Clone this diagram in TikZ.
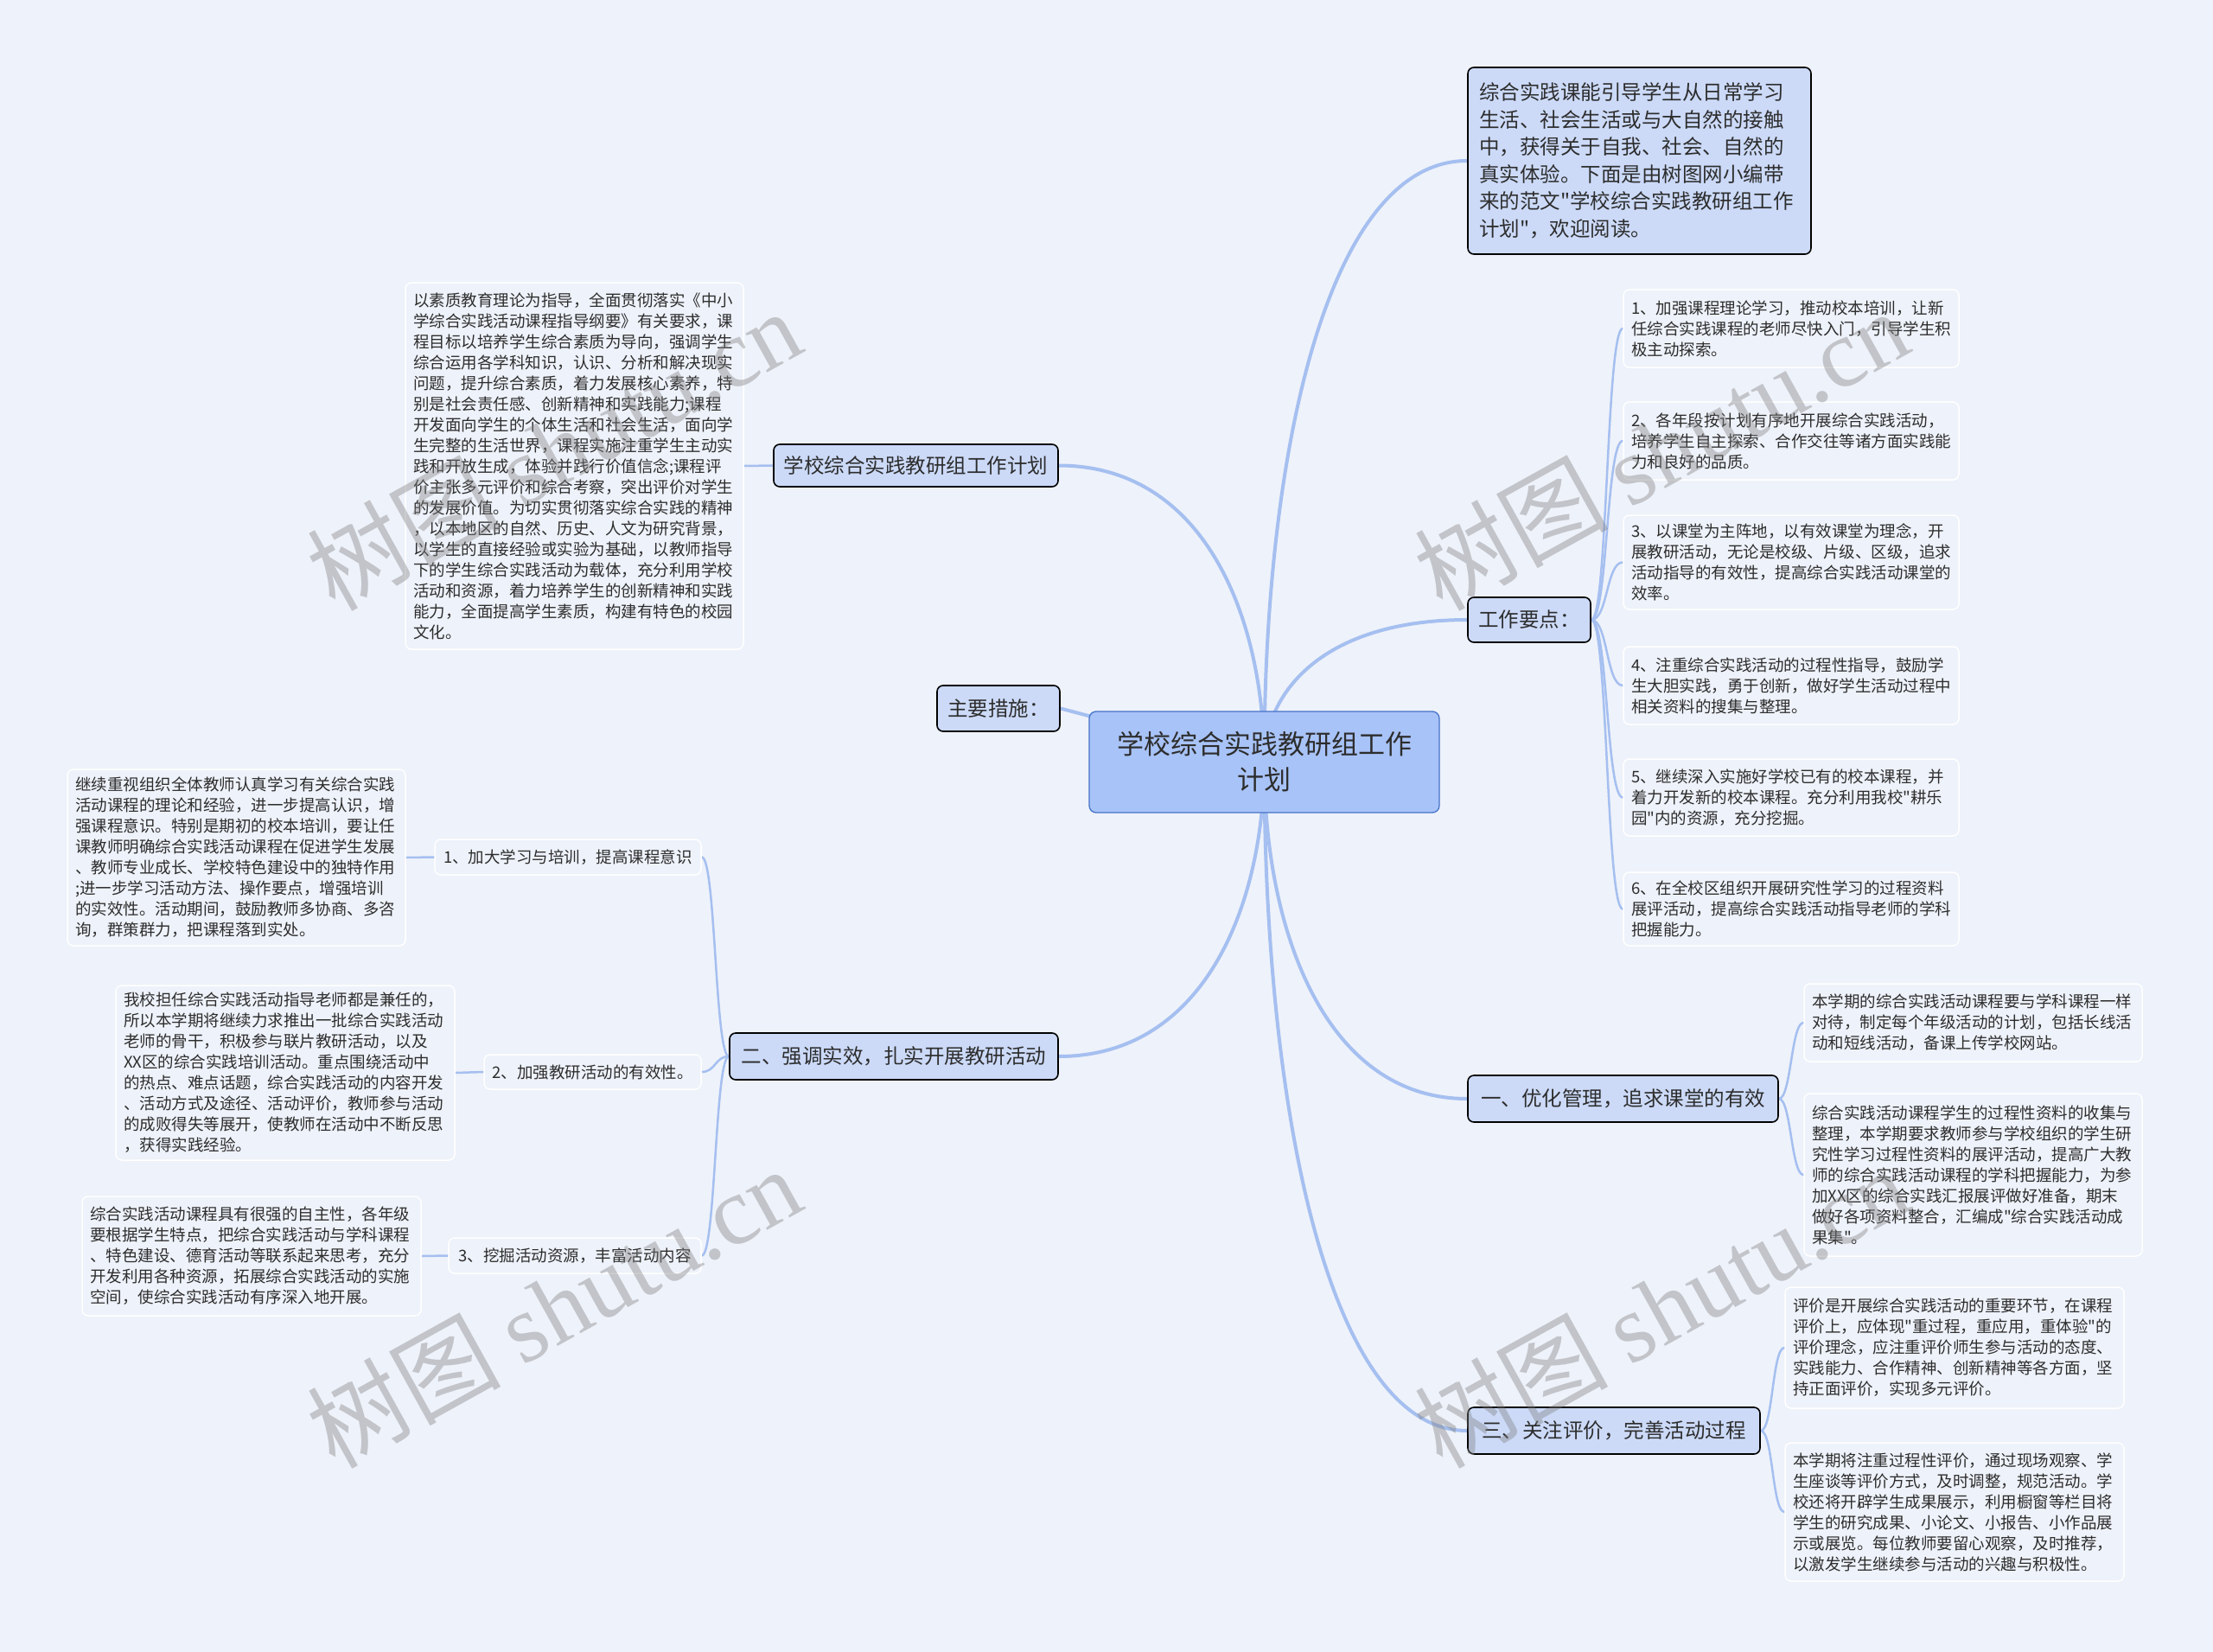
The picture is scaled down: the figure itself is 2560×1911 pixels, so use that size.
\documentclass[tikz,border=0pt]{standalone}
\usepackage{fontspec}
\newfontfamily\cjk{Noto Sans CJK SC}
\newfontfamily\wmlatin{Liberation Serif}
\definecolor{bgc}{RGB}{238,242,250}
\definecolor{linec}{RGB}{165,191,240}
\definecolor{lonefill}{RGB}{204,218,248}
\definecolor{ctrfill}{RGB}{168,195,247}
\definecolor{ctrdraw}{RGB}{70,115,200}
\definecolor{txt}{RGB}{45,45,45}
\pgfdeclarelayer{bglayer}
\pgfdeclarelayer{toplayer}
\pgfsetlayers{bglayer,main,toplayer}
\begin{document}
\begin{tikzpicture}[x=1pt,y=-1pt,
  ctrbox/.style={draw=ctrdraw, line width=1.3pt, fill=ctrfill, rounded corners=8pt, text=txt,
    font=\cjk\fontsize{31}{41}\selectfont, inner sep=0pt, align=center},
  lone/.style={draw=black, line width=1.6pt, fill=lonefill, rounded corners=7pt, text=txt,
    font=\cjk\fontsize{23.5}{31.5}\selectfont, inner sep=0pt},
  ltwo/.style={draw=white, line width=1.5pt, fill=bgc, rounded corners=7pt, text=txt,
    font=\cjk\fontsize{18.5}{24}\selectfont, inner xsep=9pt, inner ysep=0pt, align=left},
  subnode/.style={draw=white, line width=1.5pt, fill=bgc, rounded corners=7pt, text=txt,
    font=\cjk\fontsize{18.5}{24}\selectfont, inner sep=0pt},
  mainbr/.style={draw=linec, line width=4pt, line cap=round},
  subbr/.style={draw=linec, line width=2.5pt, line cap=round},
  wm/.style={rotate=29, text=black!50, opacity=0.4, font=\cjk\fontsize{112}{112}\selectfont}
]
\useasboundingbox (0,0) rectangle (2560,1911);

% ---------- nodes ----------
\node[ctrbox, minimum width=405pt, minimum height=117pt] (ctr) at (1462.5,881.5)
  {学校综合实践教研组工作\\计划};

\node[lone, minimum height=216pt, text width=371pt, inner xsep=13pt, align=left] (desc) at (1896.5,186)
  {综合实践课能引导学生从日常学习\\生活、社会生活或与大自然的接触\\中，获得关于自我、社会、自然的\\真实体验。下面是由树图网小编带\\来的范文"学校综合实践教研组工作\\计划"，欢迎阅读。};

\node[lone, minimum width=142pt, minimum height=52pt] (gzyd) at (1769,717) {工作要点：};
\node[lone, minimum width=142pt, minimum height=53pt] (zycs) at (1155,819.5) {主要措施：};
\node[lone, minimum width=329pt, minimum height=49pt] (jh) at (1059.5,538.5) {学校综合实践教研组工作计划};
\node[lone, minimum width=380pt, minimum height=54pt] (er) at (1034,1222) {二、强调实效，扎实开展教研活动};
\node[lone, minimum width=359pt, minimum height=54pt] (yi) at (1877.5,1271) {一、优化管理，追求课堂的有效};
\node[lone, minimum width=338pt, minimum height=54pt] (san) at (1867,1655) {三、关注评价，完善活动过程};

% right items under 工作要点
\node[ltwo, text width=370pt, minimum height=90pt] (it1) at (2072,380)
  {1、加强课程理论学习，推动校本培训，让新\\任综合实践课程的老师尽快入门，引导学生积\\极主动探索。};
\node[ltwo, text width=370pt, minimum height=90pt] (it2) at (2072,510)
  {2、各年段按计划有序地开展综合实践活动，\\培养学生自主探索、合作交往等诸方面实践能\\力和良好的品质。};
\node[ltwo, text width=370pt, minimum height=109pt] (it3) at (2072,650.5)
  {3、以课堂为主阵地，以有效课堂为理念，开\\展教研活动，无论是校级、片级、区级，追求\\活动指导的有效性，提高综合实践活动课堂的\\效率。};
\node[ltwo, text width=370pt, minimum height=90pt] (it4) at (2072,793)
  {4、注重综合实践活动的过程性指导，鼓励学\\生大胆实践，勇于创新，做好学生活动过程中\\相关资料的搜集与整理。};
\node[ltwo, text width=370pt, minimum height=89pt] (it5) at (2072,922.5)
  {5、继续深入实施好学校已有的校本课程，并\\着力开发新的校本课程。充分利用我校"耕乐\\园"内的资源，充分挖掘。};
\node[ltwo, text width=370pt, minimum height=85pt] (it6) at (2072,1051.5)
  {6、在全校区组织开展研究性学习的过程资料\\展评活动，提高综合实践活动指导老师的学科\\把握能力。};

% under 一
\node[ltwo, text width=373pt, minimum height=90pt] (ya) at (2282.5,1183)
  {本学期的综合实践活动课程要与学科课程一样\\对待，制定每个年级活动的计划，包括长线活\\动和短线活动，备课上传学校网站。};
\node[ltwo, text width=373pt, minimum height=188pt] (yb) at (2282.5,1359)
  {综合实践活动课程学生的过程性资料的收集与\\整理，本学期要求教师参与学校组织的学生研\\究性学习过程性资料的展评活动，提高广大教\\师的综合实践活动课程的学科把握能力，为参\\加XX区的综合实践汇报展评做好准备，期末\\做好各项资料整合，汇编成"综合实践活动成\\果集"。};

% under 三
\node[ltwo, text width=374pt, minimum height=140pt] (sc) at (2261,1559)
  {评价是开展综合实践活动的重要环节，在课程\\评价上，应体现"重过程，重应用，重体验"的\\评价理念，应注重评价师生参与活动的态度、\\实践能力、合作精神、创新精神等各方面，坚\\持正面评价，实现多元评价。};
\node[ltwo, text width=374pt, minimum height=160pt] (sd) at (2261,1749)
  {本学期将注重过程性评价，通过现场观察、学\\生座谈等评价方式，及时调整，规范活动。学\\校还将开辟学生成果展示，利用橱窗等栏目将\\学生的研究成果、小论文、小报告、小作品展\\示或展览。每位教师要留心观察，及时推荐，\\以激发学生继续参与活动的兴趣与积极性。};

% left top text
\node[ltwo, text width=373pt, minimum height=424pt] (lt) at (664.5,539)
  {以素质教育理论为指导，全面贯彻落实《中小\\学综合实践活动课程指导纲要》有关要求，课\\程目标以培养学生综合素质为导向，强调学生\\综合运用各学科知识，认识、分析和解决现实\\问题，提升综合素质，着力发展核心素养，特\\别是社会责任感、创新精神和实践能力;课程\\开发面向学生的个体生活和社会生活，面向学\\生完整的生活世界，课程实施注重学生主动实\\践和开放生成，体验并践行价值信念;课程评\\价主张多元评价和综合考察，突出评价对学生\\的发展价值。为切实贯彻落实综合实践的精神\\，以本地区的自然、历史、人文为研究背景，\\以学生的直接经验或实验为基础，以教师指导\\下的学生综合实践活动为载体，充分利用学校\\活动和资源，着力培养学生的创新精神和实践\\能力，全面提高学生素质，构建有特色的校园\\文化。};

% under 二
\node[subnode, minimum width=308pt, minimum height=41pt] (s1) at (657,991.5) {1、加大学习与培训，提高课程意识};
\node[subnode, minimum width=251pt, minimum height=40pt] (s2) at (685.5,1240) {2、加强教研活动的有效性。};
\node[subnode, minimum width=292pt, minimum height=41pt] (s3) at (665,1452.5) {3、挖掘活动资源，丰富活动内容};

\node[ltwo, text width=373pt, minimum height=204pt] (b1) at (273.5,992)
  {继续重视组织全体教师认真学习有关综合实践\\活动课程的理论和经验，进一步提高认识，增\\强课程意识。特别是期初的校本培训，要让任\\课教师明确综合实践活动课程在促进学生发展\\、教师专业成长、学校特色建设中的独特作用\\;进一步学习活动方法、操作要点，增强培训\\的实效性。活动期间，鼓励教师多协商、多咨\\询，群策群力，把课程落到实处。};
\node[ltwo, text width=374pt, minimum height=202pt] (b2) at (330,1241)
  {我校担任综合实践活动指导老师都是兼任的，\\所以本学期将继续力求推出一批综合实践活动\\老师的骨干，积极参与联片教研活动，以及\\XX区的综合实践培训活动。重点围绕活动中\\的热点、难点话题，综合实践活动的内容开发\\、活动方式及途径、活动评价，教师参与活动\\的成败得失等展开，使教师在活动中不断反思\\，获得实践经验。};
\node[ltwo, text width=374pt, minimum height=138pt] (b3) at (291,1453)
  {综合实践活动课程具有很强的自主性，各年级\\要根据学生特点，把综合实践活动与学科课程\\、特色建设、德育活动等联系起来思考，充分\\开发利用各种资源，拓展综合实践活动的实施\\空间，使综合实践活动有序深入地开展。};

% ---------- background and connectors ----------
\begin{pgfonlayer}{bglayer}
\fill[bgc] (0,0) rectangle (2560,1911);
% main branches
\draw[mainbr] (ctr.center) .. controls (1462,533) and (1533,186) .. (desc.west);
\draw[mainbr] (ctr.center) .. controls (1462,799) and (1533,717) .. (gzyd.west);
\draw[mainbr] (ctr.center) .. controls (1462,1076) and (1533,1271) .. (yi.west);
\draw[mainbr] (ctr.center) .. controls (1462,1268) and (1533,1655) .. (san.west);
\draw[mainbr] (ctr.center) .. controls (1462,710) and (1391,538.5) .. (jh.east);
\draw[mainbr] (ctr.center) .. controls (1462,1051) and (1391,1222) .. (er.east);
\draw[mainbr] (ctr.center) -- (zycs.east);
% 工作要点 items
\draw[subbr] (gzyd.east) .. controls (1860,717) and (1858,380) .. (it1.west);
\draw[subbr] (gzyd.east) .. controls (1860,717) and (1858,510) .. (it2.west);
\draw[subbr] (gzyd.east) .. controls (1860,717) and (1858,650.5) .. (it3.west);
\draw[subbr] (gzyd.east) .. controls (1860,717) and (1858,793) .. (it4.west);
\draw[subbr] (gzyd.east) .. controls (1860,717) and (1858,922.5) .. (it5.west);
\draw[subbr] (gzyd.east) .. controls (1860,717) and (1858,1051.5) .. (it6.west);
% 一
\draw[subbr] (yi.east) .. controls (2072,1271) and (2072,1183) .. (ya.west);
\draw[subbr] (yi.east) .. controls (2072,1271) and (2072,1359) .. (yb.west);
% 三
\draw[subbr] (san.east) .. controls (2051,1655) and (2050,1559) .. (sc.west);
\draw[subbr] (san.east) .. controls (2051,1655) and (2050,1749) .. (sd.west);
% 二
\draw[subbr] (er.west) .. controls (827,1222) and (828,991.5) .. (s1.east);
\draw[subbr] (er.west) .. controls (827,1222) and (828,1240) .. (s2.east);
\draw[subbr] (er.west) .. controls (827,1222) and (828,1452.5) .. (s3.east);
\draw[subbr] (s1.west) -- (b1.east);
\draw[subbr] (s2.west) -- (b2.east);
\draw[subbr] (s3.west) -- (b3.east);
\draw[subbr] (jh.west) -- (lt.east);
\end{pgfonlayer}

% ---------- watermarks ----------
\begin{pgfonlayer}{toplayer}
\node[wm] (wm1) at (640,520) {树图 {\wmlatin shutu.cn}};
\node[wm] (wm2) at (1921,520) {树图 {\wmlatin shutu.cn}};
\node[wm] (wm3) at (640,1512) {树图 {\wmlatin shutu.cn}};
\node[wm] (wm4) at (1921,1512) {树图 {\wmlatin shutu.cn}};
\end{pgfonlayer}
\end{tikzpicture}
\end{document}
